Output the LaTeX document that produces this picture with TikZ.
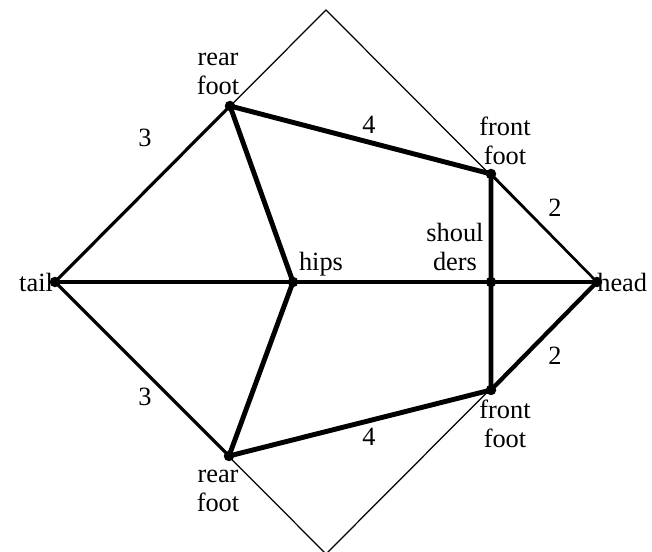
\documentclass[tikz,border=0pt]{standalone}
\usepackage{fontspec}
\setmainfont{Liberation Serif}
\usetikzlibrary{calc}

\begin{document}
\begin{tikzpicture}[font=\fontsize{15}{16.5}\selectfont,line join=round,line cap=round]
\tikzset{
  frame/.style={line width=0.7pt},
  limb/.style={line width=2.8pt},
  dot/.style={circle,fill,inner sep=0pt,minimum size=0.21cm},
}
\useasboundingbox (0,0) rectangle (13.04,11.04);

% Joints of the skeleton.
\coordinate (tail) at (1.10,5.40);
\coordinate (head) at (11.94,5.40);
\coordinate (top) at (6.52,10.84);
\coordinate (bottom) at (6.52,-0.04);
\coordinate (hips) at (5.86,5.40);
\coordinate (shoulders) at (9.82,5.40);
\coordinate (rearA) at (4.60,8.92);
\coordinate (rearB) at (4.58,1.92);
\coordinate (frontA) at (9.82,7.56);
\coordinate (frontB) at (9.82,3.24);

% The enclosing square.
\draw[frame] (tail)--(top)--(head)--(bottom)--cycle;

% Edges along the square.
\draw[line width=1.8pt] (tail)--(rearA);
\draw[line width=1.8pt] (tail)--(rearB);
\draw[line width=1.5pt] (frontA)--(head);
\draw[line width=2.4pt] (frontB)--(head);

% Skeleton.
\draw[limb] (tail)--(hips)--(shoulders)--(head);
\draw[limb] (rearA)--(hips)--(rearB);
\draw[limb] (rearA)--(frontA)--(shoulders)--(frontB)--(rearB);

\foreach \p in {tail,head,hips,shoulders,rearA,rearB,frontA,frontB}
  \node[dot] (\p-dot) at (\p) {};

% Labels.
\node[anchor=east,inner sep=1pt] (tail-lbl) at (tail) {tail};
\node[anchor=west,inner sep=0pt] (head-lbl) at (head) {head};
\node (hips-lbl) at (6.42,5.76) {hips};
\node[align=center] (shoulders-lbl) at (9.10,6.10) {shoul\\ders};
\node[align=center] (rearA-lbl) at (4.36,9.56) {rear\\foot};
\node[align=center] (rearB-lbl) at (4.36,1.22) {rear\\foot};
\node[align=center] (frontA-lbl) at (10.10,8.22) {front\\foot};
\node[align=center] (frontB-lbl) at (10.10,2.56) {front\\foot};
\node (lenA) at (2.90,8.28) {3};
\node (lenB) at (2.90,3.10) {3};
\node (lenC) at (7.38,8.54) {4};
\node (lenD) at (7.38,2.30) {4};
\node (lenE) at (11.10,6.88) {2};
\node (lenF) at (11.10,3.92) {2};
\end{tikzpicture}
\end{document}
